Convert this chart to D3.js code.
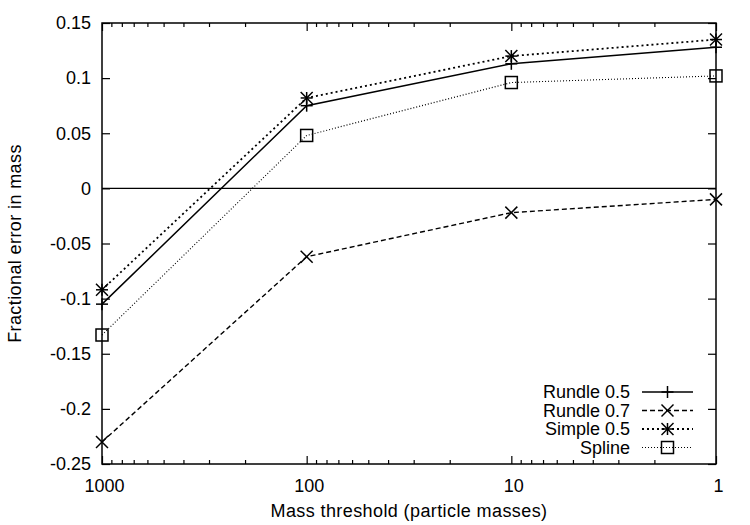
<!DOCTYPE html>
<html>
<head>
<meta charset="utf-8">
<script src="https://cdn.jsdelivr.net/npm/d3@7"></script>
<style>
  body { margin: 0; background: #fff; }
  svg { font-family: "Liberation Sans", Arial, Helvetica, sans-serif; }
</style>
</head>
<body>
<svg id="chart"></svg>
<script>
// data
const thresholds = [1000, 100, 10, 1];
const rundle05 = [-0.105, 0.075, 0.113, 0.128];
const rundle07 = [-0.230, -0.062, -0.022, -0.010];
const simple05 = [-0.092, 0.082, 0.120, 0.135];
const spline   = [-0.133, 0.048, 0.096, 0.102];
const seriesNames = ["Rundle 0.5", "Rundle 0.7", "Simple 0.5", "Spline"];
const yTicks = [-0.25, -0.2, -0.15, -0.1, -0.05, 0, 0.05, 0.1, 0.15];

const width = 750, height = 525;
const margin = {top: 23, right: 34, bottom: 61, left: 102};
const fontSize = 18;

const svg = d3.select('#chart')
    .attr('width', width)
    .attr('height', height);

const x = d3.scaleLog()
    .domain([1000, 1])
    .range([margin.left, width - margin.right]);
const y = d3.scaleLinear()
    .domain([-0.25, 0.15])
    .range([height - margin.bottom, margin.top]);

// minor log ticks 2..9 in every decade
let minor = [];
[1, 10, 100].forEach(d => {
    for (let k = 2; k <= 9; k++) minor.push(d * k);
});

const fmtY = d => d === 0 ? '0' : String(+d.toFixed(2));

// bottom axis
svg.append('g')
    .attr('transform', `translate(0,${y.range()[0]})`)
    .call(d3.axisBottom(x).tickValues(minor).tickSize(-4).tickFormat(''))
    .call(g => g.select('.domain').remove());
svg.append('g')
    .attr('transform', `translate(0,${y.range()[0]})`)
    .call(d3.axisBottom(x).tickValues(thresholds).tickSize(-8).tickPadding(15).tickFormat(d3.format('d')))
    .call(g => g.select('.domain').remove())
    .call(g => g.selectAll('.tick text').attr('x', 2));

// top axis (no labels)
svg.append('g')
    .attr('transform', `translate(0,${y.range()[1]})`)
    .call(d3.axisTop(x).tickValues(minor).tickSize(-4).tickFormat(''))
    .call(g => g.select('.domain').remove());
svg.append('g')
    .attr('transform', `translate(0,${y.range()[1]})`)
    .call(d3.axisTop(x).tickValues(thresholds).tickSize(-8).tickFormat(''))
    .call(g => g.select('.domain').remove());

// left & right axes
svg.append('g')
    .attr('transform', `translate(${x.range()[0]},0)`)
    .call(d3.axisLeft(y).tickValues(yTicks).tickSize(-8).tickPadding(11).tickFormat(fmtY))
    .call(g => g.select('.domain').remove());
svg.append('g')
    .attr('transform', `translate(${x.range()[1]},0)`)
    .call(d3.axisRight(y).tickValues(yTicks).tickSize(-8).tickFormat(''))
    .call(g => g.select('.domain').remove());

svg.selectAll('.tick line').attr('stroke', '#000').attr('stroke-width', 1.2);
svg.selectAll('.tick text').attr('font-size', fontSize).attr('fill', '#000')
    .attr('font-family', '"Liberation Sans", Arial, sans-serif');

// zero line
svg.append('line')
    .attr('x1', x.range()[0]).attr('x2', x.range()[1])
    .attr('y1', y(0)).attr('y2', y(0))
    .attr('stroke', '#000').attr('stroke-width', 1.3);

// frame
svg.append('rect')
    .attr('x', x.range()[0]).attr('y', y.range()[1])
    .attr('width', x.range()[1] - x.range()[0])
    .attr('height', y.range()[0] - y.range()[1])
    .attr('fill', 'none').attr('stroke', '#000').attr('stroke-width', 1.5);

// series styles
const styles = [
    {vals: rundle05, dash: null,  w: 1.5, marker: 'plus'},
    {vals: rundle07, dash: '5,3', w: 1.4, marker: 'cross'},
    {vals: simple05, dash: '2,3', w: 1.8, marker: 'star'},
    {vals: spline,   dash: '1,2', w: 1.1, marker: 'box'}
];

function drawMarker(g, type, cx, cy) {
    const s = 6;
    const line = (x1, y1, x2, y2) => g.append('line')
        .attr('x1', cx + x1).attr('y1', cy + y1)
        .attr('x2', cx + x2).attr('y2', cy + y2)
        .attr('stroke', '#000').attr('stroke-width', 1.5);
    if (type === 'plus' || type === 'star') {
        line(-s, 0, s, 0);
        line(0, -s, 0, s);
    }
    if (type === 'cross' || type === 'star') {
        line(-s, -s, s, s);
        line(-s, s, s, -s);
    }
    if (type === 'box') {
        g.append('rect')
            .attr('x', cx - s).attr('y', cy - s)
            .attr('width', 2 * s).attr('height', 2 * s)
            .attr('fill', 'none').attr('stroke', '#000').attr('stroke-width', 1.5);
    }
}

const lineGen = d3.line()
    .x((d, i) => x(thresholds[i]))
    .y(d => y(d));

styles.forEach(st => {
    svg.append('path')
        .datum(st.vals)
        .attr('d', lineGen)
        .attr('fill', 'none')
        .attr('stroke', '#000')
        .attr('stroke-width', st.w)
        .attr('stroke-dasharray', st.dash);
    const g = svg.append('g');
    st.vals.forEach((v, i) => drawMarker(g, st.marker, x(thresholds[i]), y(v)));
});

// legend
const legend = svg.append('g');
styles.forEach((st, i) => {
    const ly = 392 + i * 18.5;
    legend.append('text')
        .attr('x', 630).attr('y', ly)
        .attr('dy', '0.35em')
        .attr('text-anchor', 'end')
        .attr('font-size', fontSize)
        .text(seriesNames[i]);
    legend.append('line')
        .attr('x1', 642).attr('x2', 693)
        .attr('y1', ly).attr('y2', ly)
        .attr('stroke', '#000')
        .attr('stroke-width', st.w)
        .attr('stroke-dasharray', st.dash);
    drawMarker(legend, st.marker, 667.5, ly);
});

// axis titles
svg.append('text')
    .attr('x', (x.range()[0] + x.range()[1]) / 2)
    .attr('y', 517)
    .attr('text-anchor', 'middle')
    .attr('font-size', fontSize)
    .attr('letter-spacing', 0.4)
    .text('Mass threshold (particle masses)');
svg.append('text')
    .attr('transform', `translate(21,${(y.range()[0] + y.range()[1]) / 2}) rotate(-90)`)
    .attr('text-anchor', 'middle')
    .attr('font-size', fontSize)
    .attr('letter-spacing', 0.4)
    .text('Fractional error in mass');
</script>
</body>
</html>
